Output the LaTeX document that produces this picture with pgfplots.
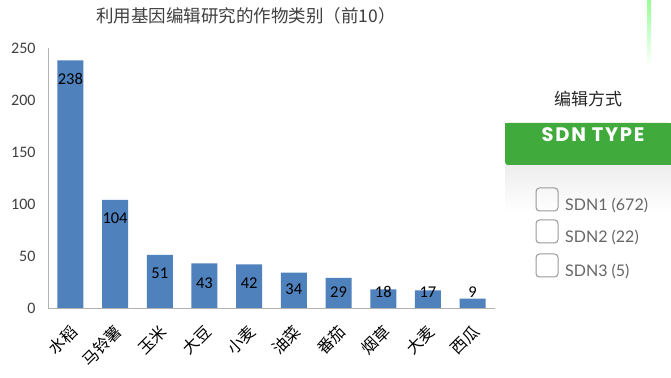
\documentclass[border=0pt]{standalone}
\usepackage{pgfplots}
\pgfplotsset{compat=1.18}
\usepackage{fontspec}
\setmainfont{Carlito}
\newfontfamily\cjk{Noto Sans CJK SC}
\newfontfamily\popsp[LetterSpace=9]{Poppins}
\newfontfamily\lato{Lato}
\definecolor{barblue}{RGB}{79,129,189}
\definecolor{sdngreen}{RGB}{64,170,60}
\definecolor{txtgray}{RGB}{64,64,64}
\begin{document}
\begin{tikzpicture}[x=1pt,y=1pt]
\path[use as bounding box, fill=white] (0,0) rectangle (671,377);
\begin{axis}[
 at={(48pt,69pt)}, anchor=south west, scale only axis, width=447pt, height=260pt,
 ymin=0, ymax=250, xmin=-0.5, xmax=9.5,
 axis x line*=bottom, axis y line*=left,
 axis line style={-, draw=gray!60},
 ytick={0,50,...,250}, xtick={0,...,9},
 xticklabels={水稻,马铃薯,玉米,大豆,小麦,油菜,番茄,烟草,大麦,西瓜},
 x tick label style={font=\cjk\fontsize{16}{16}\selectfont, rotate=45, anchor=north east, inner sep=1pt, color=black, xshift=-11pt, yshift=-9pt},
 y tick label style={font=\fontsize{16}{16}\selectfont, color=txtgray, xshift=-9pt},
 major tick length=0pt,
 /pgf/number format/assume math mode=true,
 clip=false,
]
\addplot[ybar, bar width=26pt, fill=barblue, draw=none] coordinates {(0,238)(1,104)(2,51)(3,43)(4,42)(5,34)(6,29)(7,18)(8,17)(9,9)};
\addplot[draw=none, mark=none, nodes near coords, point meta=explicit symbolic,
  nodes near coords style={anchor=center, font=\fontsize{16.5}{16.5}\selectfont, color=black, inner sep=0pt}]
  coordinates {(0,220)[238] (1,86.5)[104] (2,33.7)[51] (3,24)[43] (4,24)[42] (5,18.3)[34] (6,15.4)[29] (7,15.4)[18] (8,15.4)[17] (9,15.4)[9]};
\end{axis}
\node[font=\cjk\fontsize{17.5}{17.5}\selectfont, color=txtgray] at (246,361) {利用基因编辑研究的作物类别（前10）};
% right panel decorations
\shade[top color=green!40!white, bottom color=white] (647,377) rectangle (651,310);
\node[font=\cjk\fontsize{17}{17}\selectfont, color=black!85] at (588,278) {编辑方式};
\shade[top color=black!7, bottom color=white] (505,212) rectangle (671,165);
\fill[sdngreen, rounded corners=3pt] (505,212) rectangle (671,254);
\fill[sdngreen] (505,230) rectangle (671,254);
\fill[sdngreen] (600,212) rectangle (671,254);
\node[font=\popsp\bfseries\fontsize{19.5}{19.5}\selectfont, color=white] at (593,242) {SDN TYPE};
\foreach \y/\t in {166/{SDN1 (672)},134/{SDN2 (22)},100/{SDN3 (5)}}{
  \draw[gray!80, line width=1pt, rounded corners=3.5pt] (536,\y) rectangle (558,\y+23);
  \node[font=\lato\fontsize{16}{16}\selectfont, color=black!60, anchor=base west, inner sep=0pt] at (565,\y) {\t};
}
\end{tikzpicture}
\end{document}
